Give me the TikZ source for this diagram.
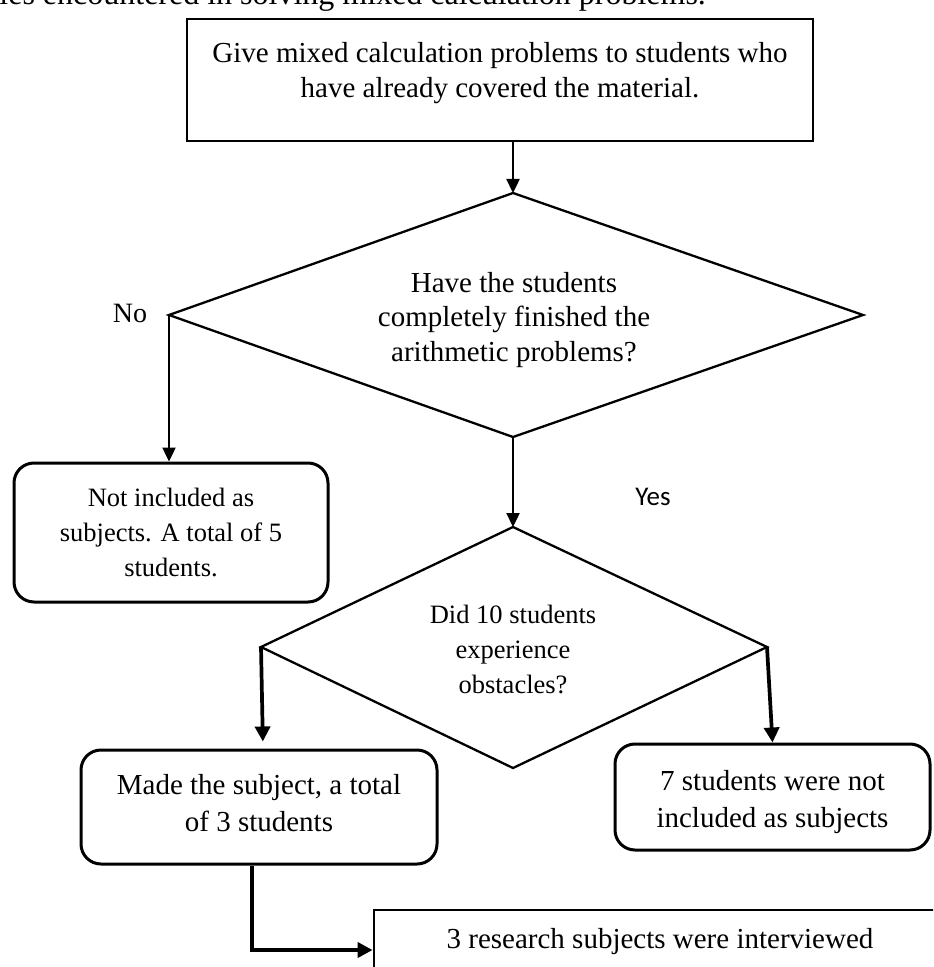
\documentclass[tikz,border=0pt]{standalone}
\usepackage{fontspec}
\setmainfont{Liberation Serif}
\newfontfamily\yesfont{Carlito}
\usetikzlibrary{arrows.meta}
\begin{document}
\begin{tikzpicture}[x=0.5pt,y=-0.5pt,
  boxline/.style={draw, line width=1.4pt, inner sep=0pt},
  rbox/.style={draw, line width=1.5pt, inner sep=0pt, rounded corners=10pt},
  txtA/.style={font=\fontsize{14.5}{17.5}\selectfont, align=center, inner sep=0pt},
  txtB/.style={font=\fontsize{13.25}{17.5}\selectfont, align=center, inner sep=0pt},
  txtC/.style={font=\fontsize{14.5}{18.5}\selectfont, align=center, inner sep=0pt},
  txtD/.style={font=\fontsize{14.5}{17.25}\selectfont, align=center, inner sep=0pt},
  diam/.style={line width=1.15pt, line join=miter},
  arr/.style={-{Triangle[length=7pt,width=6.5pt]}, line width=1.2pt},
  thickarr/.style={-{Triangle[length=7.5pt,width=7.5pt]}, line width=1.85pt}]
\useasboundingbox (0,0) rectangle (933,967);
\clip (0,0) rectangle (933,967);

% heading (cut off at the top)
\node[font=\fontsize{16}{19}\selectfont, anchor=base west, inner sep=0pt] (head) at (-1,5)
  {ies encountered in solving mixed calculation problems.};

% top box
\node[boxline, minimum width=313pt, minimum height=61pt] (top) at (500,80) {};
\node[txtA] (toptxt) at (500,72.8)
  {Give mixed calculation problems to students who\\have already covered the material.};

% diamond 1
\coordinate (d1t) at (513,193);
\coordinate (d1r) at (863,315);
\coordinate (d1b) at (513,437);
\coordinate (d1l) at (169,315);
\draw[diam] (d1t) -- (d1r) -- (d1b) -- (d1l) -- cycle;
\node[txtD] (d1txt) at (514,319.7)
  {Have the students\\completely finished the\\arithmetic problems?};

% left box
\node[rbox, txtB, minimum width=157pt, minimum height=69.5pt] (nibox) at (171,532.5)
  {Not included as\\subjects. A total of 5\\students.};

% diamond 2
\coordinate (d2t) at (513,527);
\coordinate (d2r) at (767,647);
\coordinate (d2b) at (513,768);
\coordinate (d2l) at (261,647);
\draw[diam] (d2t) -- (d2r) -- (d2b) -- (d2l) -- cycle;
\node[txtB] (d2txt) at (513,649)
  {Did 10 students\\experience\\obstacles?};

% made box
\node[rbox, minimum width=178pt, minimum height=57pt] (mbox) at (259,807) {};
\node[txtC] (mtxt) at (259,802.6) {Made the subject, a total\\of 3 students};

% right box
\node[rbox, minimum width=157.5pt, minimum height=53pt] (rbx) at (772.5,797) {};
\node[txtC] (rtxt) at (772.5,801.8) {7 students were not\\included as subjects};

% bottom box
\node[boxline, minimum width=286pt, minimum height=40pt] (bbox) at (660,950) {};
\node[txtA] (btxt) at (660,941.2) {3 research subjects were interviewed};

% labels
\node[font=\fontsize{14}{16}\selectfont, anchor=base, inner sep=0pt] (no) at (130,323) {No};
\node[font=\yesfont\fontsize{13.5}{16}\selectfont, anchor=base, inner sep=0pt] (yes) at (653,505) {Yes};

% connectors
\draw[arr] (d1t |- top.south) -- (d1t);
\draw[arr] (d1l) -- (d1l |- nibox.north);
\draw[arr] (d1b) -- (d2t);
\draw[thickarr, shorten >=3.5pt] (d2l) -- ([xshift=2pt]mbox.north);
\draw[thickarr] (d2r) -- (rbx.north);
\draw[thickarr] ([xshift=-3.5pt]mbox.south) |- (bbox.west);
\end{tikzpicture}
\end{document}
